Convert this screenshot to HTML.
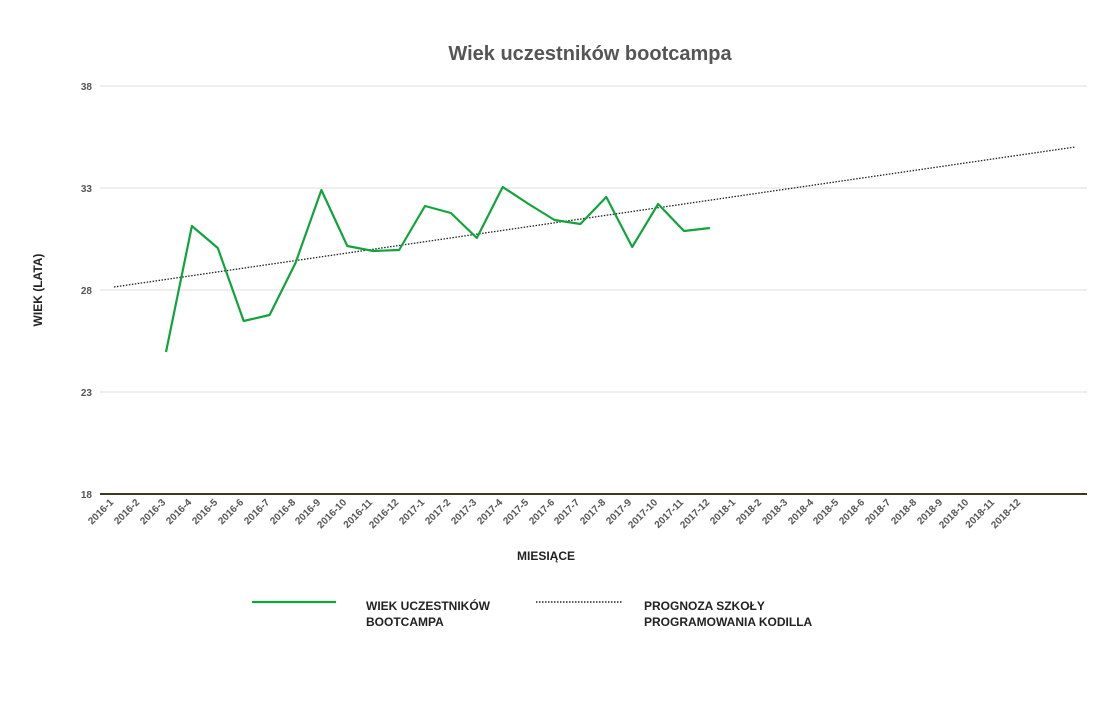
<!DOCTYPE html>
<html><head><meta charset="utf-8"><style>
body{margin:0;background:#fff;}
svg text{font-family:"Liberation Sans",sans-serif;}
</style></head><body>
<svg width="1100" height="705" xmlns="http://www.w3.org/2000/svg">
<rect width="1100" height="705" fill="#fff"/>
<text x="590" y="60" text-anchor="middle" font-size="20" font-weight="bold" fill="#555">Wiek uczestników bootcampa</text>
<g stroke="#ddd" stroke-width="1">
<line x1="100" y1="86" x2="1087" y2="86"/>
<line x1="100" y1="188" x2="1087" y2="188"/>
<line x1="100" y1="290" x2="1087" y2="290"/>
<line x1="100" y1="392" x2="1087" y2="392"/>
</g>
<line x1="100" y1="494" x2="1087" y2="494" stroke="#3d3a20" stroke-width="2"/>
<g font-size="10" font-weight="bold" fill="#555" text-anchor="end">
<text x="92" y="90">38</text><text x="92" y="192">33</text><text x="92" y="294">28</text><text x="92" y="396">23</text><text x="92" y="498">18</text>
</g>
<text transform="translate(42,290) rotate(-90)" text-anchor="middle" font-size="12" font-weight="bold" fill="#222">WIEK (LATA)</text>
<text x="546" y="560" text-anchor="middle" font-size="12" font-weight="bold" fill="#222">MIESIĄCE</text>
<g id="xl" font-size="10" font-weight="bold" fill="#555" text-anchor="end"></g>
<line x1="114" y1="287" x2="1075" y2="147" stroke="#222" stroke-width="1.3" stroke-dasharray="1.5,1.5"/>
<polyline fill="none" stroke="#10a53c" stroke-width="2.2" stroke-linejoin="round" points="166,352 191.9,226 217.8,248 243.7,321 269.6,315 295.5,263 321.4,190 347.3,246 373.2,251 399.1,250 425,206 450.9,213 476.8,238 502.7,187 528.6,204 554.5,220 580.4,224 606.3,197 632.2,247 658.1,204 684,231 709.9,228"/>
<line x1="252" y1="602" x2="336" y2="602" stroke="#10a53c" stroke-width="2.2"/>
<text x="366" y="610" font-size="12" font-weight="bold" fill="#222">WIEK UCZESTNIKÓW</text>
<text x="366" y="626" font-size="12" font-weight="bold" fill="#222">BOOTCAMPA</text>
<line x1="536" y1="602" x2="622" y2="602" stroke="#222" stroke-width="1.5" stroke-dasharray="1.5,1.5"/>
<text x="644" y="610" font-size="12" font-weight="bold" fill="#222">PROGNOZA SZKOŁY</text>
<text x="644" y="626" font-size="12" font-weight="bold" fill="#222">PROGRAMOWANIA KODILLA</text>
<g font-size="10" font-weight="bold" fill="#555" text-anchor="end">
<text transform="translate(114,503) rotate(-45)">2016-1</text>
<text transform="translate(140,503) rotate(-45)">2016-2</text>
<text transform="translate(166,503) rotate(-45)">2016-3</text>
<text transform="translate(192,503) rotate(-45)">2016-4</text>
<text transform="translate(218,503) rotate(-45)">2016-5</text>
<text transform="translate(244,503) rotate(-45)">2016-6</text>
<text transform="translate(270,503) rotate(-45)">2016-7</text>
<text transform="translate(296,503) rotate(-45)">2016-8</text>
<text transform="translate(321,503) rotate(-45)">2016-9</text>
<text transform="translate(347,503) rotate(-45)">2016-10</text>
<text transform="translate(373,503) rotate(-45)">2016-11</text>
<text transform="translate(399,503) rotate(-45)">2016-12</text>
<text transform="translate(425,503) rotate(-45)">2017-1</text>
<text transform="translate(451,503) rotate(-45)">2017-2</text>
<text transform="translate(477,503) rotate(-45)">2017-3</text>
<text transform="translate(503,503) rotate(-45)">2017-4</text>
<text transform="translate(529,503) rotate(-45)">2017-5</text>
<text transform="translate(555,503) rotate(-45)">2017-6</text>
<text transform="translate(580,503) rotate(-45)">2017-7</text>
<text transform="translate(606,503) rotate(-45)">2017-8</text>
<text transform="translate(632,503) rotate(-45)">2017-9</text>
<text transform="translate(658,503) rotate(-45)">2017-10</text>
<text transform="translate(684,503) rotate(-45)">2017-11</text>
<text transform="translate(710,503) rotate(-45)">2017-12</text>
<text transform="translate(736,503) rotate(-45)">2018-1</text>
<text transform="translate(762,503) rotate(-45)">2018-2</text>
<text transform="translate(788,503) rotate(-45)">2018-3</text>
<text transform="translate(814,503) rotate(-45)">2018-4</text>
<text transform="translate(839,503) rotate(-45)">2018-5</text>
<text transform="translate(865,503) rotate(-45)">2018-6</text>
<text transform="translate(891,503) rotate(-45)">2018-7</text>
<text transform="translate(917,503) rotate(-45)">2018-8</text>
<text transform="translate(943,503) rotate(-45)">2018-9</text>
<text transform="translate(969,503) rotate(-45)">2018-10</text>
<text transform="translate(995,503) rotate(-45)">2018-11</text>
<text transform="translate(1021,503) rotate(-45)">2018-12</text>
</g>
</svg>
</body></html>
